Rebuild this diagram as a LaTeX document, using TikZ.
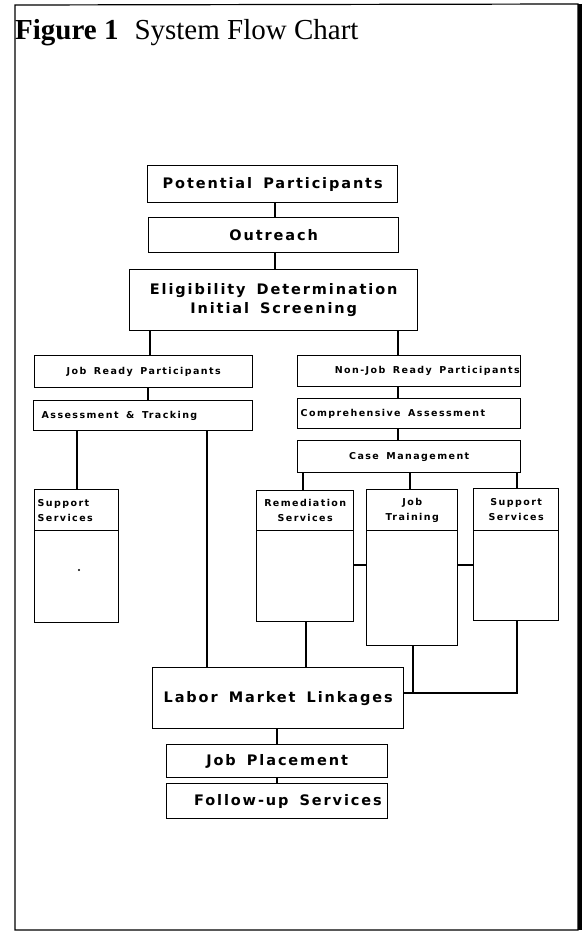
\documentclass[tikz,border=0pt]{standalone}
\usepackage{fontspec}
\setmainfont{Liberation Serif}
\newfontfamily\bigplot{DejaVu Sans}[LetterSpace=13, WordSpace=1.6]
\newfontfamily\smallplot{DejaVu Sans}[LetterSpace=15, WordSpace=1.6]
\begin{document}
\begin{tikzpicture}[x=1pt,y=-1pt,
  bx/.style n args={2}{draw, line width=1.4pt, inner sep=0pt, anchor=north west,
     minimum width=#1pt, minimum height=#2pt},
  big/.style={font=\bigplot\bfseries\fontsize{14.5}{19.5}\selectfont, align=center},
  sml/.style={font=\smallplot\bfseries\fontsize{9.5}{15}\selectfont, align=center},
  con/.style={line width=1.4pt}]
\useasboundingbox (0,0) rectangle (587,936);
% frame
\draw[line width=1.2pt] (15,5) -- (578,4) -- (578,930) -- (15,930) -- cycle;
\draw[line width=4pt] (580,4) -- (580,930);
% title
\node[anchor=base west, inner sep=0pt] (title) at (15,40)
  {\fontsize{29}{31}\selectfont\bfseries Figure 1\hspace{0.55em}\mdseries System Flow Chart};
% top column
\node[bx={250}{37}, big] (pp) at (147,165) {Potential Participants};
\node[bx={250}{35}, big] (out) at (148,217) {Outreach};
\node[bx={288}{61}, big] (elig) at (129,269) {Eligibility Determination\\Initial Screening};
% left branch
\node[bx={218}{32}, sml] (jr) at (34,355) {Job Ready Participants};
\node[bx={219}{30}, sml] (at) at (33,400) {\makebox[203pt][l]{Assessment \& Tracking}};
\node[bx={84}{41}, sml] (sslh) at (34,489) {\makebox[78pt][l]{Support}\\\makebox[78pt][l]{Services}};
\node[bx={84}{92}] (sslb) at (34,530) {};
% right branch
\node[bx={223}{31}, sml] (nj) at (297,355) {\makebox[221pt][r]{Non-Job Ready Participants}};
\node[bx={223}{30}, sml] (comp) at (297,398) {\makebox[217pt][l]{Comprehensive Assessment}};
\node[bx={223}{32}, sml] (cm) at (297,440) {Case Management};
\node[bx={97}{40}, sml] (remh) at (256,490) {Remediation\\Services};
\node[bx={97}{91}] (remb) at (256,530) {};
\node[bx={91}{41}, sml] (jth) at (366,489) {Job\\Training};
\node[bx={91}{115}] (jtb) at (366,530) {};
\node[bx={85}{42}, sml] (ssrh) at (473,488) {Support\\Services};
\node[bx={85}{90}] (ssrb) at (473,530) {};
% bottom column
\node[bx={251}{61}, big] (lml) at (152,667) {Labor Market Linkages};
\node[bx={221}{33}, big] (jp) at (166,744) {Job Placement};
\node[bx={221}{35}, big] (fu) at (166,783) {\makebox[209pt][r]{Follow-up Services}};
% dot
\fill (79,570) circle (1.1pt);
% x positions
\coordinate (x275) at (275,0);
\coordinate (x150) at (150,0);
\coordinate (x398) at (398,0);
\coordinate (x148) at (148,0);
\coordinate (x77) at (77,0);
\coordinate (x207) at (207,0);
\coordinate (x303) at (303,0);
\coordinate (x410) at (410,0);
\coordinate (x517) at (517,0);
\coordinate (x306) at (306,0);
\coordinate (x413) at (413,0);
\coordinate (x277) at (277,0);
\coordinate (y565) at (0,565);
\coordinate (k1) at (413,693);
\coordinate (k2) at (517,693);
% connectors
\draw[con] (pp.south -| x275) -- (out.north -| x275);
\draw[con] (out.south -| x275) -- (elig.north -| x275);
\draw[con] (elig.south -| x150) -- (jr.north -| x150);
\draw[con] (elig.south -| x398) -- (nj.north -| x398);
\draw[con] (jr.south -| x148) -- (at.north -| x148);
\draw[con] (nj.south -| x398) -- (comp.north -| x398);
\draw[con] (comp.south -| x398) -- (cm.north -| x398);
\draw[con] (at.south -| x77) -- (sslh.north -| x77);
\draw[con] (at.south -| x207) -- (lml.north -| x207);
\draw[con] (cm.south -| x303) -- (remh.north -| x303);
\draw[con] (cm.south -| x410) -- (jth.north -| x410);
\draw[con] (cm.south -| x517) -- (ssrh.north -| x517);
\draw[con] (remb.east |- y565) -- (jtb.west |- y565);
\draw[con] (jtb.east |- y565) -- (ssrb.west |- y565);
\draw[con] (remb.south -| x306) -- (lml.north -| x306);
\draw[con] (jtb.south -| x413) -- (k1);
\draw[con] (lml.east |- k1) -- (k2) -- (ssrb.south -| k2);
\draw[con] (lml.south -| x277) -- (jp.north -| x277);
\draw[con] (jp.south -| x277) -- (fu.north -| x277);
\end{tikzpicture}
\end{document}
